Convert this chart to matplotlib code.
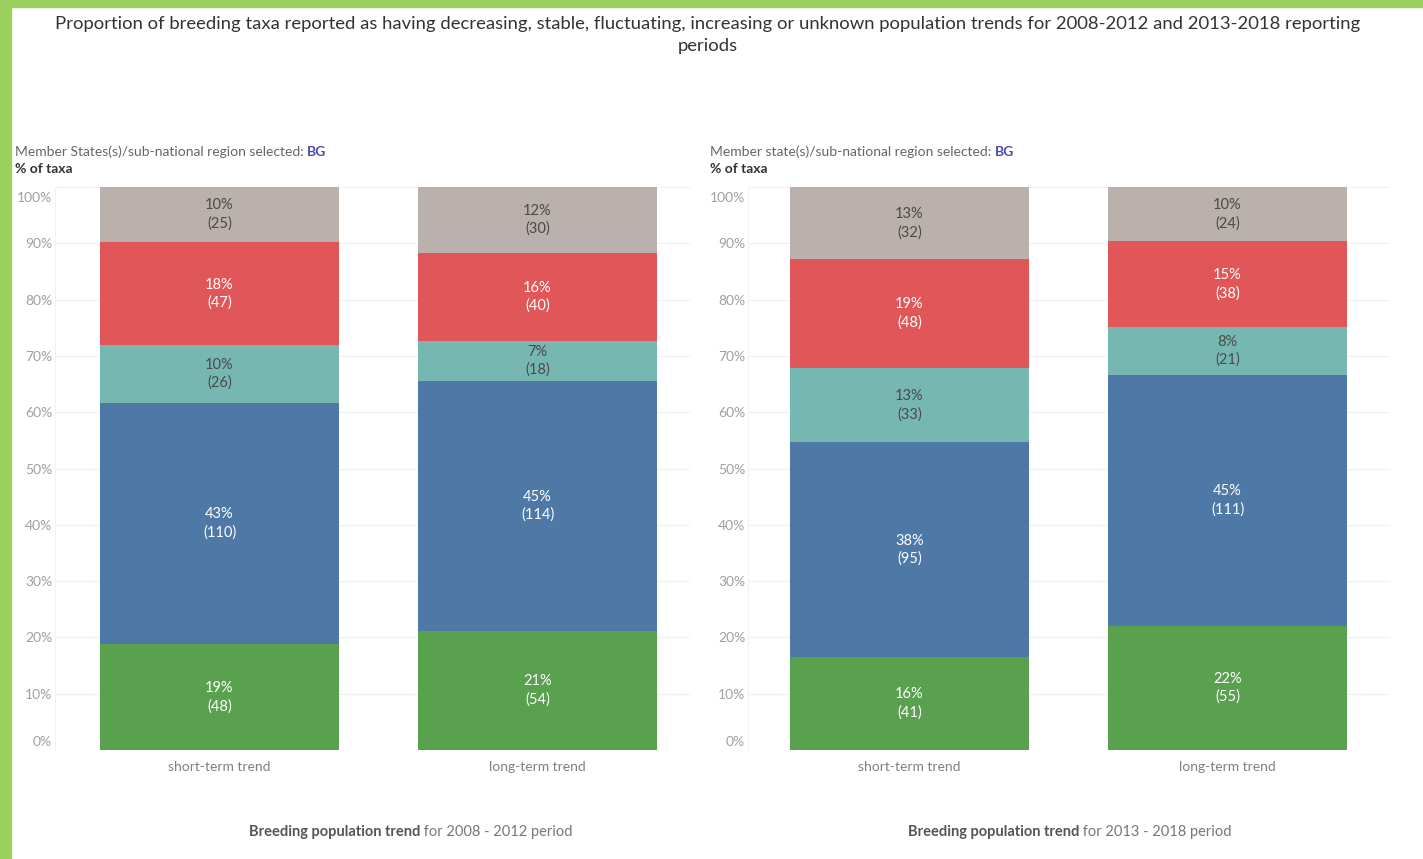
import matplotlib
matplotlib.use('Agg')
import matplotlib.pyplot as plt
from matplotlib.patches import Rectangle
from matplotlib.transforms import ScaledTranslation
import numpy as np

plt.rcParams['font.family'] = ['Lato', 'DejaVu Sans']

# stack order bottom -> top: increasing, stable, fluctuating, decreasing, unknown
categories = ['short-term trend', 'long-term trend']
segment_names = ['increasing', 'stable', 'fluctuating', 'decreasing', 'unknown']
colors = ['#59a14f', '#4e79a7', '#76b7b2', '#e15759', '#bab0ac']
label_colors = ['white', 'white', '#4a4a4a', 'white', '#4a4a4a']

# counts of taxa per segment (short-term, long-term)
counts_2008 = {
    'increasing': [48, 54],
    'stable': [110, 114],
    'fluctuating': [26, 18],
    'decreasing': [47, 40],
    'unknown': [25, 30],
}
pct_2008 = {
    'increasing': [19, 21],
    'stable': [43, 45],
    'fluctuating': [10, 7],
    'decreasing': [18, 16],
    'unknown': [10, 12],
}
counts_2013 = {
    'increasing': [41, 55],
    'stable': [95, 111],
    'fluctuating': [33, 21],
    'decreasing': [48, 38],
    'unknown': [32, 24],
}
pct_2013 = {
    'increasing': [16, 22],
    'stable': [38, 45],
    'fluctuating': [13, 8],
    'decreasing': [19, 15],
    'unknown': [13, 10],
}

W, H = 1423, 859
fig = plt.figure(figsize=(W / 100, H / 100), dpi=100)
fig.patch.set_facecolor('white')

# green frame on top and left
fig.patches.append(Rectangle((0, 1 - 7 / H), 1, 7 / H, transform=fig.transFigure,
                             color='#9bd05f', zorder=0))
fig.patches.append(Rectangle((0, 0), 11 / W, 1, transform=fig.transFigure,
                             color='#9bd05f', zorder=0))


def px_axes(left, right, top, bottom):
    return fig.add_axes([left / W, 1 - bottom / H, (right - left) / W, (bottom - top) / H])


def draw_panel(ax, counts, pcts, x0px, xleft, xright):
    x = np.arange(len(categories))
    scale = 318.0
    width = 239 / scale
    ax.set_xlim((xleft - x0px) / scale, (xright - x0px) / scale)
    ax.set_ylim(0, 100)
    bottoms = np.zeros(len(categories))
    totals = np.sum([counts[n] for n in segment_names], axis=0)
    for name, col, lcol in zip(segment_names, colors, label_colors):
        c = np.array(counts[name], dtype=float)
        vals = c / totals * 100
        ax.bar(x, vals, width, bottom=bottoms, color=col, zorder=2, linewidth=0)
        for i in range(len(categories)):
            ax.text(x[i], bottoms[i] + vals[i] / 2, '%d%%\n(%d)' % (pcts[name][i], counts[name][i]),
                    ha='center', va='center', color=lcol, fontsize=10.5, linespacing=1.35, zorder=3)
        bottoms += vals
    ax.set_yticks(np.arange(0, 101, 10))
    ax.set_yticklabels(['%d%%' % v for v in range(0, 101, 10)])
    ax.tick_params(axis='y', length=0, pad=2, labelcolor='#a0a0a0', labelsize=10)
    ax.set_xticks(x)
    ax.set_xticklabels(categories)
    ax.tick_params(axis='x', length=0, pad=8, labelcolor='#808080', labelsize=10)
    ax.grid(axis='y', color='#f0f0f0', linewidth=0.8, zorder=0)
    for s in ['top', 'right', 'bottom']:
        ax.spines[s].set_visible(False)
    ax.spines['left'].set_color('#f2f2f2')
    labels = ax.get_yticklabels()
    labels[0].set_transform(labels[0].get_transform() + ScaledTranslation(0, 9 / 100, fig.dpi_scale_trans))
    labels[-1].set_transform(labels[-1].get_transform() + ScaledTranslation(0, -10 / 100, fig.dpi_scale_trans))


ax1 = px_axes(55, 690, 187, 750)
draw_panel(ax1, counts_2008, pct_2008, 219.5, 55, 690)
ax2 = px_axes(748, 1390, 187, 750)
draw_panel(ax2, counts_2013, pct_2013, 909.5, 748, 1390)

fig.text(708 / W, 1 - 35 / H,
         'Proportion of breeding taxa reported as having decreasing, stable, fluctuating, increasing or unknown population trends for 2008-2012 and 2013-2018 reporting\nperiods',
         ha='center', va='center', fontsize=13.3, color='#333333', linespacing=1.45)

renderer = fig.canvas.get_renderer()


def two_part(xpx, ypx, first, second, c1, c2, w1, w2, size, center=False):
    t1 = fig.text(xpx / W, 1 - ypx / H, first, ha='left', va='center', fontsize=size,
                  color=c1, fontweight=w1)
    t2 = fig.text(xpx / W, 1 - ypx / H, second, ha='left', va='center', fontsize=size,
                  color=c2, fontweight=w2)
    wa = t1.get_window_extent(renderer).width
    wb = t2.get_window_extent(renderer).width
    start = xpx - (wa + wb) / 2 if center else xpx
    t1.set_x(start / W)
    t2.set_x((start + wa) / W)


two_part(15, 152, 'Member States(s)/sub-national region selected: ', 'BG',
         '#666666', '#4a4ab8', 'normal', 'bold', 10)
fig.text(15 / W, 1 - 169 / H, '% of taxa', fontsize=10, color='#333333',
         fontweight='bold', va='center')
two_part(710, 152, 'Member state(s)/sub-national region selected: ', 'BG',
         '#666666', '#4a4ab8', 'normal', 'bold', 10)
fig.text(710 / W, 1 - 169 / H, '% of taxa', fontsize=10, color='#333333',
         fontweight='bold', va='center')

two_part(411, 832, 'Breeding population trend', ' for 2008 - 2012 period',
         '#555555', '#777777', 'bold', 'normal', 10.5, center=True)
two_part(1070, 832, 'Breeding population trend', ' for 2013 - 2018 period',
         '#555555', '#777777', 'bold', 'normal', 10.5, center=True)

fig.savefig('out.png', dpi=100, facecolor='white')
